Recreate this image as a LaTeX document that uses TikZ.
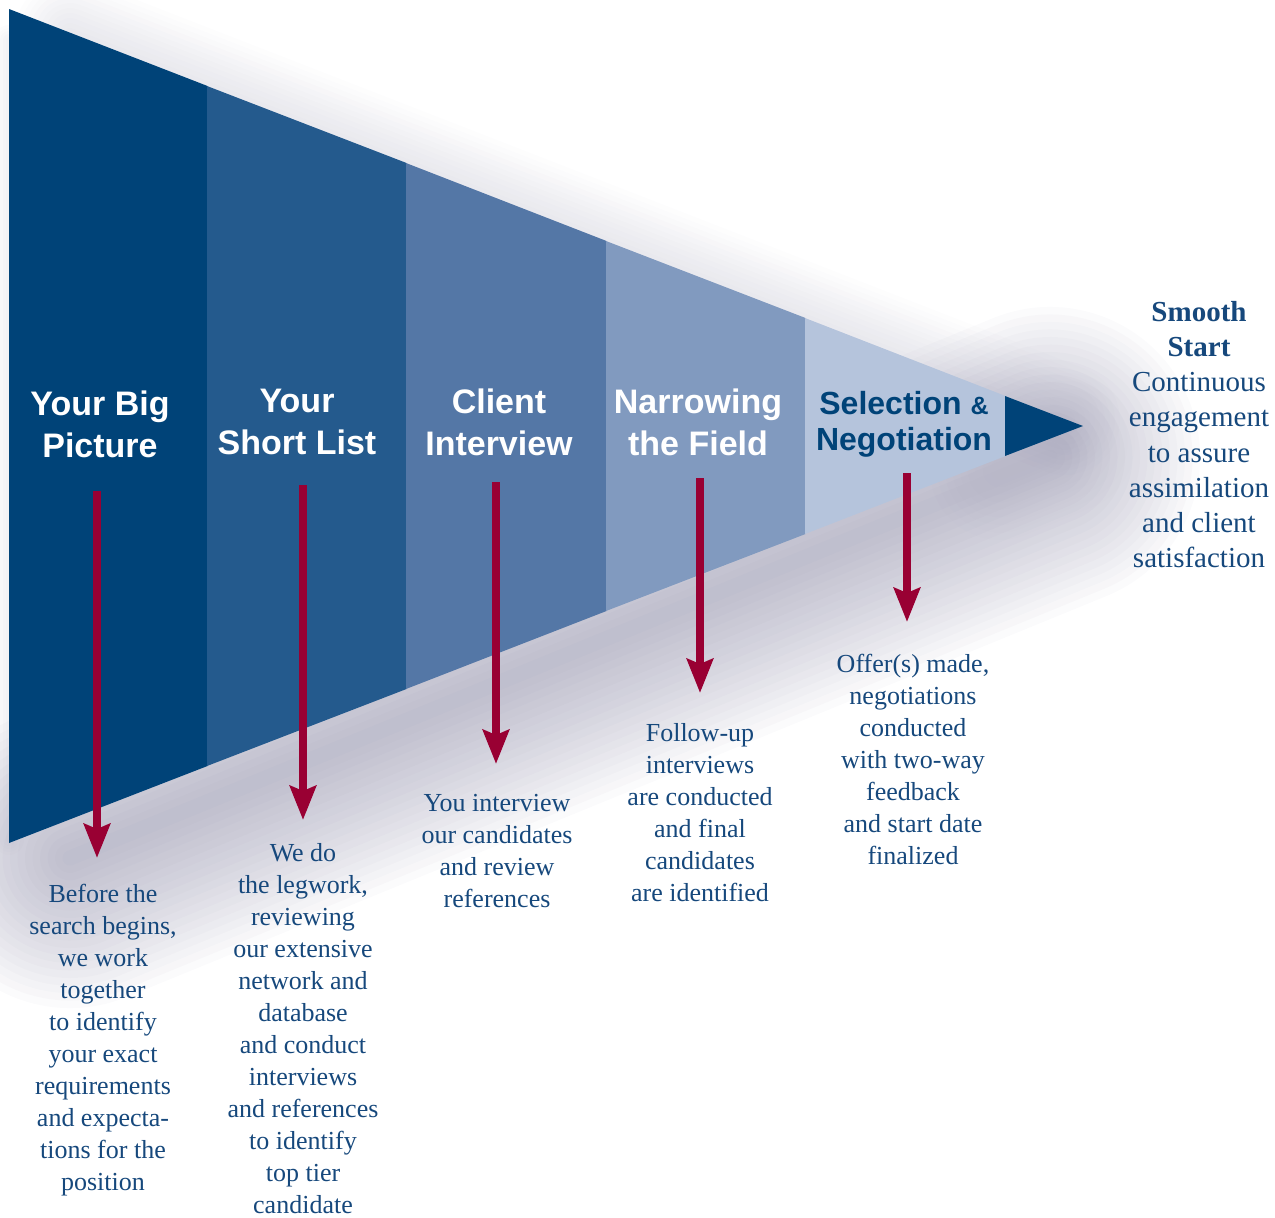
\documentclass[tikz,border=0pt]{standalone}
\usepackage{fontspec}
\setmainfont{Liberation Serif}
\newfontfamily\headfont{Liberation Sans}
\usetikzlibrary{arrows.meta}
\definecolor{sA}{RGB}{0,67,120}
\definecolor{sB}{RGB}{36,90,141}
\definecolor{sC}{RGB}{84,119,166}
\definecolor{sD}{RGB}{129,154,191}
\definecolor{sE}{RGB}{181,196,220}
\definecolor{txtblue}{RGB}{22,72,124}
\definecolor{arrowred}{RGB}{153,0,51}
\definecolor{shadowc}{RGB}{120,118,150}
\tikzset{
  stage/.style={font=\headfont\bfseries\fontsize{34}{42}\selectfont, text=white, align=center, inner sep=0pt, anchor=north},
  body/.style={font=\fontsize{26}{32}\selectfont, text=txtblue, align=center, inner sep=0pt, anchor=north},
  downarrow/.style={draw=arrowred, line width=8pt, -{Stealth[length=34pt, width=26pt, inset=5pt]}, fill=arrowred},
  shadowlayer/.style={shadowc, line cap=round, line join=round},
}
\begin{document}
\begin{tikzpicture}[x=1pt,y=-1pt]
\useasboundingbox (0,0) rectangle (1275,1218);
% soft shadow below the funnel
\foreach \w in {300,285,...,15}{
  \draw[shadowlayer, opacity=0.03, line width=\w pt] (70,858) -- (1050,457);
}
% soft shadow around the tip
\foreach \w in {140,125,...,20}{
  \draw[shadowlayer, opacity=0.012, line width=\w pt] (1000,470) -- (1065,443);
}
% faint shadow above the funnel
\foreach \w in {110,100,...,10}{
  \draw[shadowlayer, opacity=0.014, line width=\w pt] (70,33) -- (1065,420);
}
% faint shadow left of the funnel
\foreach \w in {30,24,...,6}{
  \draw[shadowlayer, opacity=0.02, line width=\w pt] (9,40) -- (9,840);
}
% stripes
\fill[sA] (9,9) -- (207.5,86) -- (207.5,766) -- (9,843) -- cycle;
\fill[sB] (207,86) -- (406.5,163) -- (406.5,689) -- (207,766) -- cycle;
\fill[sC] (406,163) -- (606.5,241) -- (606.5,611) -- (406,689) -- cycle;
\fill[sD] (606,241) -- (805.5,318) -- (805.5,534) -- (606,611) -- cycle;
\fill[sE] (805,318) -- (1005.5,396) -- (1005.5,456) -- (805,534) -- cycle;
\fill[sA] (1005,396) -- (1083,426) -- (1005,456) -- cycle;
% stage titles
\node[stage] (t1) at (100,391) {Your Big\\Picture};
\node[stage] (t2) at (297,389) {Your\\Short List};
\node[stage] (t3) at (499,389) {Client\\Interview};
\node[stage] (t4) at (698,389) {Narrowing\\the Field};
\node[stage, text=sA, font=\headfont\bfseries\fontsize{32}{36}\selectfont] (t5) at (904,391) {Selection {\fontsize{25}{30}\selectfont\&}\\Negotiation};
% arrows
\coordinate (a1s) at (97,491);  \coordinate (a1e) at (97,858);
\coordinate (a2s) at (303,485); \coordinate (a2e) at (303,820);
\coordinate (a3s) at (496,482); \coordinate (a3e) at (496,764);
\coordinate (a4s) at (700,478); \coordinate (a4e) at (700,693);
\coordinate (a5s) at (907,473); \coordinate (a5e) at (907,622);
\draw[downarrow] (a1s) -- (a1e);
\draw[downarrow] (a2s) -- (a2e);
\draw[downarrow] (a3s) -- (a3e);
\draw[downarrow] (a4s) -- (a4e);
\draw[downarrow] (a5s) -- (a5e);
% descriptions
\node[body] (d1) at (103,884) {Before the\\search begins,\\we work\\together\\to identify\\your exact\\requirements\\and expecta-\\tions for the\\position};
\node[body] (d2) at (303,843) {We do\\the legwork,\\reviewing\\our extensive\\network and\\database\\and conduct\\interviews\\and references\\to identify\\top tier\\candidate};
\node[body] (d3) at (497,794) {You interview\\our candidates\\and review\\references};
\node[body] (d4) at (700,723) {Follow-up\\interviews\\are conducted\\and final\\candidates\\are identified};
\node[body] (d5) at (913,654) {Offer(s) made,\\negotiations\\conducted\\with two-way\\feedback\\and start date\\finalized};
\node[body, font=\fontsize{29}{35.2}\selectfont] (d6) at (1199,301) {\textbf{Smooth}\\\textbf{Start}\\Continuous\\engagement\\to assure\\assimilation\\and client\\satisfaction};
\end{tikzpicture}
\end{document}
